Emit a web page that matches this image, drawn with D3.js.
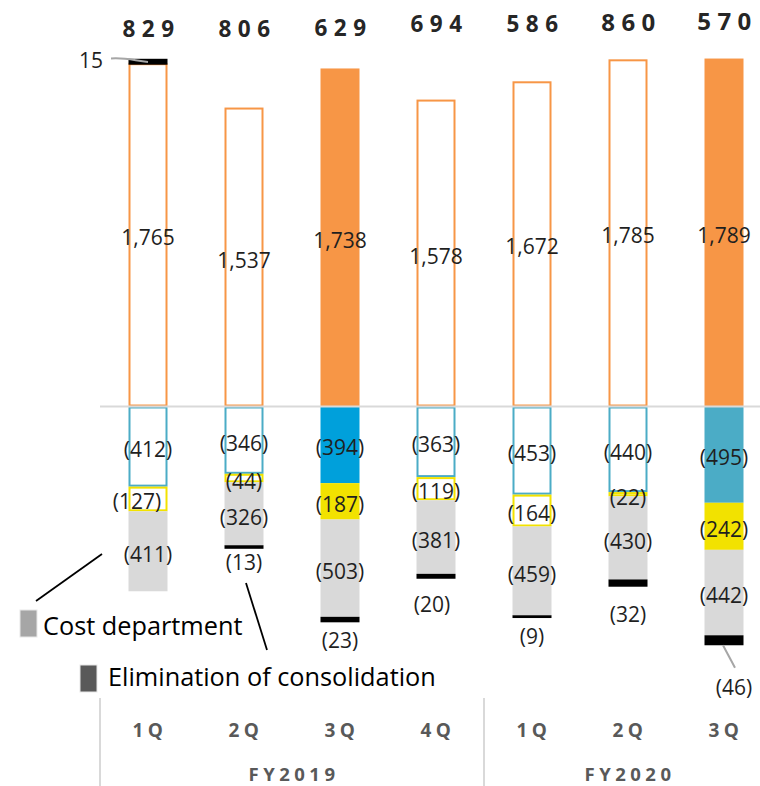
<!DOCTYPE html>
<html>
<head>
<meta charset="utf-8">
<script src="https://cdn.jsdelivr.net/npm/d3@7"></script>
<style>
  html, body { margin: 0; padding: 0; background: #fff; }
  svg { display: block; font-family: "Open Sans", "Noto Sans", sans-serif; }
</style>
</head>
<body>
<svg id="chart" width="760" height="786"></svg>
<script>
// Quarterly operating income bridge (stacked segments, negatives in parentheses)
const quarters = ["1Q", "2Q", "3Q", "4Q", "1Q", "2Q", "3Q"];
const fiscalYears = ["FY2019", "FY2020"];
const yearOfQuarter = [0, 0, 0, 0, 1, 1, 1];
const totals = [829, 806, 629, 694, 586, 860, 570];
const grossProfit = [1765, 1537, 1738, 1578, 1672, 1785, 1789];
const salesCost = [-412, -346, -394, -363, -453, -440, -495];
const otherCost = [-127, -44, -187, -119, -164, -22, -242];
const costDepartment = [-411, -326, -503, -381, -459, -430, -442];
const elimination = [15, -13, -23, -20, -9, -32, -46];
const legendLabels = ["Cost department", "Elimination of consolidation"];

const svg = d3.select("#chart");
const W = 760;

// Quarters drawn as solid blocks; the rest are outlined
const solidQuarters = new Set([2, 6]);
const solidBlue = { 2: "#00A0DB", 6: "#4BACC6" };
const COL = { orange: "#F79646", blue: "#4BACC6", yellow: "#F2E200", gray: "#D9D9D9", black: "#000" };

const x = d3.scalePoint().domain(d3.range(quarters.length)).range([148, 724]);
const y = d3.scaleLinear().domain([-1000, 1800]).range([601, 56.4]);
const barW = 39;

const fmt = d3.format(",");
const label = v => v < 0 ? "(" + fmt(-v) + ")" : fmt(v);
const VAL_SIZE = 21;
const VAL_COLOR = "#1f1f1f";

// Build stacked segments per quarter
const segs = [];
quarters.forEach((q, i) => {
  segs.push({ i, key: "gp", y0: 0, y1: grossProfit[i], v: grossProfit[i], color: COL.orange });
  let acc = 0;
  [[salesCost, "sc", COL.blue], [otherCost, "oc", COL.yellow], [costDepartment, "cd", COL.gray]].forEach(([arr, key, c]) => {
    const v = arr[i];
    let color = c;
    if (key === "sc" && solidQuarters.has(i)) color = solidBlue[i];
    segs.push({ i, key, y0: acc, y1: acc + v, v, color });
    acc += v;
  });
  const e = elimination[i];
  if (e > 0) segs.push({ i, key: "el", y0: grossProfit[i], y1: grossProfit[i] + e, v: e, color: COL.black });
  else segs.push({ i, key: "el", y0: acc, y1: acc + e, v: e, color: COL.black });
});

const g = svg.append("g");

g.selectAll("rect.seg").data(segs).join("rect")
  .attr("class", "seg")
  .each(function (d) {
    const top = y(Math.max(d.y0, d.y1));
    const bot = y(Math.min(d.y0, d.y1));
    const sel = d3.select(this);
    const outlined = !solidQuarters.has(d.i) && (d.key === "gp" || d.key === "sc" || d.key === "oc");
    if (outlined) {
      sel.attr("x", x(d.i) - barW / 2 + 1).attr("width", barW - 2)
        .attr("y", top + 1).attr("height", Math.max(0, bot - top - 2))
        .attr("fill", "#fff").attr("stroke", d.color).attr("stroke-width", 2);
    } else if (d.key === "el") {
      const pad = d.v > 0 ? 1.5 : 0.5;
      sel.attr("x", x(d.i) - barW / 2).attr("width", barW)
        .attr("y", top - pad).attr("height", bot - top + 2 * pad)
        .attr("fill", d.color);
    } else {
      sel.attr("x", x(d.i) - barW / 2).attr("width", barW)
        .attr("y", top).attr("height", bot - top)
        .attr("fill", d.color);
    }
  });

// Zero line
g.append("line").attr("x1", 100).attr("x2", W).attr("y1", y(0)).attr("y2", y(0))
  .attr("stroke", "#D9D9D9").attr("stroke-width", 2);

// In-bar value labels
const labelNudge = { "0-oc": -11, "3-el": -4, "6-el": 10 };
const inside = segs.filter(d => d.key !== "el");
g.selectAll("text.val").data(inside).join("text")
  .attr("class", "val")
  .attr("x", d => x(d.i) + (labelNudge[d.i + "-" + d.key] || 0))
  .attr("y", d => (y(d.y0) + y(d.y1)) / 2 + 10.5)
  .attr("text-anchor", "middle")
  .attr("font-size", VAL_SIZE)
  .attr("fill", VAL_COLOR)
  .text(d => label(d.v));

// Elimination labels below (or beside) the black marks
const elimGap = [null, 22, 26, 34, 26, 36, 50];
const elimSegs = segs.filter(d => d.key === "el");
elimSegs.forEach(d => {
  if (d.v > 0) {
    g.append("text").attr("x", 91).attr("y", y(d.y1) + 8).attr("text-anchor", "middle")
      .attr("font-size", VAL_SIZE).attr("fill", VAL_COLOR).text(label(d.v));
    g.append("path")
      .attr("d", `M111,58.5 C125,57.5 132,60 ${x(d.i)},62`)
      .attr("fill", "none").attr("stroke", "#A6A6A6").attr("stroke-width", 2);
  } else {
    g.append("text")
      .attr("x", x(d.i) + (labelNudge[d.i + "-el"] || 0))
      .attr("y", y(d.y1) + elimGap[d.i])
      .attr("text-anchor", "middle").attr("font-size", VAL_SIZE).attr("fill", VAL_COLOR)
      .text(label(d.v));
  }
});
// Leader for the last elimination label
{
  const d = elimSegs[6];
  g.append("line").attr("x1", x(6) - 1).attr("y1", y(d.y1) + 0.5)
    .attr("x2", x(6) + 11).attr("y2", y(d.y1) + 23)
    .attr("stroke", "#A6A6A6").attr("stroke-width", 2);
}

// Totals on top
const totalY = [37, 37, 36, 32, 32, 31, 30];
g.selectAll("text.total").data(totals).join("text")
  .attr("class", "total")
  .attr("x", (d, i) => x(i) + 3.5)
  .attr("y", (d, i) => totalY[i])
  .attr("text-anchor", "middle")
  .attr("font-size", (d, i) => i >= 5 ? 24 : 22.5).attr("font-weight", 700)
  .attr("letter-spacing", 6.5)
  .attr("fill", "#262626")
  .text(d => d);

// Legend with leader lines
const legend = [
  { text: legendLabels[0], color: "#A6A6A6", sx: 20, sy: 610, tx: 43, ty: 635 },
  { text: legendLabels[1], color: "#595959", sx: 80, sy: 665, tx: 108, ty: 686 }
];
legend.forEach(l => {
  g.append("rect").attr("x", l.sx).attr("y", l.sy).attr("width", 17).attr("height", 27)
    .attr("fill", l.color).attr("stroke", "#E8E8E8").attr("stroke-width", 1);
  g.append("text").attr("x", l.tx).attr("y", l.ty).attr("font-size", 25.3).attr("fill", "#000").text(l.text);
});
g.append("line").attr("x1", 36).attr("y1", 601).attr("x2", 102).attr("y2", 554)
  .attr("stroke", "#000").attr("stroke-width", 1.8);
g.append("line").attr("x1", 246).attr("y1", 583).attr("x2", 267).attr("y2", 650)
  .attr("stroke", "#000").attr("stroke-width", 1.8);

// Category axis
[100, 484].forEach(sx => {
  g.append("line").attr("x1", sx).attr("x2", sx).attr("y1", 698).attr("y2", 786)
    .attr("stroke", "#D9D9D9").attr("stroke-width", 2);
});
g.selectAll("text.q").data(quarters).join("text")
  .attr("class", "q")
  .attr("x", (d, i) => x(i) + 2)
  .attr("y", 737)
  .attr("text-anchor", "middle")
  .attr("font-size", 19).attr("font-weight", 700)
  .attr("letter-spacing", 4.5)
  .attr("fill", "#595959")
  .text(d => d);
fiscalYears.forEach((fy, k) => {
  const idx = d3.range(quarters.length).filter(i => yearOfQuarter[i] === k);
  const cx = (x(idx[0]) + x(idx[idx.length - 1])) / 2;
  g.append("text").attr("x", cx + 2).attr("y", 781)
    .attr("text-anchor", "middle").attr("font-size", 18.5).attr("font-weight", 700)
    .attr("letter-spacing", 4.5).attr("fill", "#595959").text(fy);
});
</script>
</body>
</html>
